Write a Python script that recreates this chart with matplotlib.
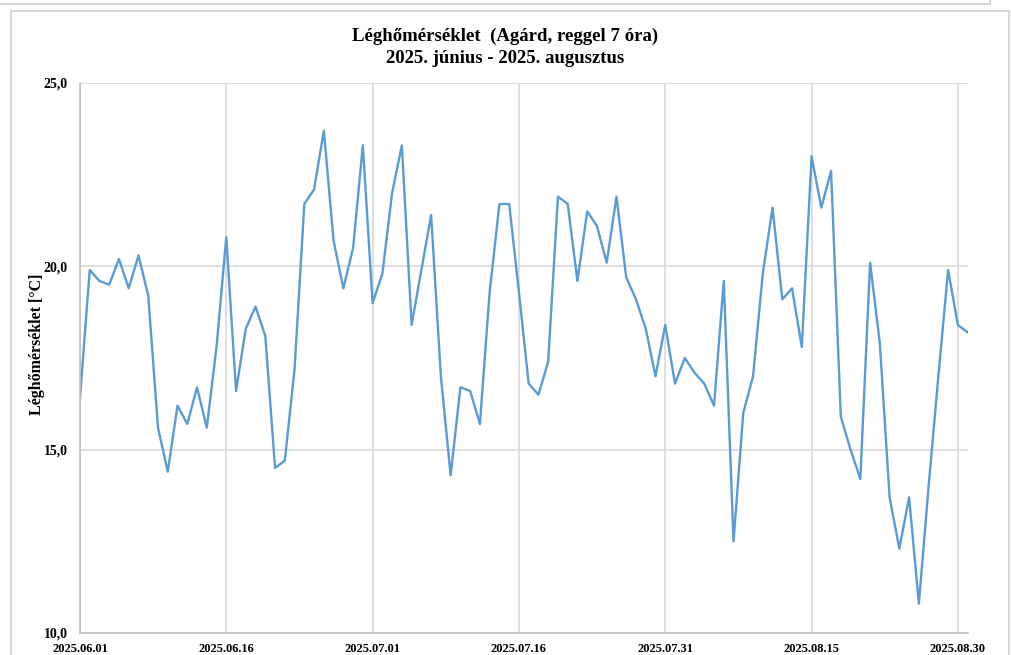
# Léghőmérséklet, Agárd, reggel 7 óra - 2025 nyár
import numpy as np
import pandas as pd
import matplotlib
matplotlib.use('Agg')
import matplotlib.pyplot as plt
from matplotlib.lines import Line2D

dates = pd.date_range('2025-06-01', '2025-08-31', freq='D')
temps = [16.4, 19.9, 19.6, 19.5, 20.2, 19.4, 20.3, 19.2, 15.6, 14.4,
         16.2, 15.7, 16.7, 15.6, 17.8, 20.8, 16.6, 18.3, 18.9, 18.1,
         14.5, 14.7, 17.2, 21.7, 22.1, 23.7, 20.7, 19.4, 20.5, 23.3,
         19.0, 19.8, 22.0, 23.3, 18.4, 19.9, 21.4, 17.0, 14.3, 16.7,
         16.6, 15.7, 19.3, 21.7, 21.7, 19.3, 16.8, 16.5, 17.4, 21.9,
         21.7, 19.6, 21.5, 21.1, 20.1, 21.9, 19.7, 19.1, 18.3, 17.0,
         18.4, 16.8, 17.5, 17.1, 16.8, 16.2, 19.6, 12.5, 16.0, 17.0,
         19.8, 21.6, 19.1, 19.4, 17.8, 23.0, 21.6, 22.6, 15.9, 15.0,
         14.2, 20.1, 17.9, 13.7, 12.3, 13.7, 10.8, 14.0, 17.0, 19.9,
         18.4, 18.2]

xtick_labels = ['2025.06.01', '2025.06.16', '2025.07.01', '2025.07.16',
                '2025.07.31', '2025.08.15', '2025.08.30']
yticks = [10, 15, 20, 25]

plt.rcParams['font.family'] = ['Liberation Serif', 'DejaVu Serif']
plt.rcParams['font.weight'] = 'bold'

fig = plt.figure(figsize=(10.11, 6.55), dpi=100)
ax = fig.add_axes([0.0791, 0.0336, 0.878, 0.8397])

day = np.arange(len(dates))
ax.plot(day, temps, color='#5B9BD5', linewidth=1.7)

tick_pos = [list(dates.strftime('%Y.%m.%d')).index(t) for t in xtick_labels]
ax.set_xticks(tick_pos)
ax.set_xticklabels(xtick_labels, fontsize=9, fontweight='bold')
ax.set_yticks(yticks)
ax.yaxis.set_major_formatter(plt.FuncFormatter(lambda v, p: ('%.1f' % v).replace('.', ',')))
ax.tick_params(axis='y', labelsize=10)
ax.set_xlim(0, len(dates) - 1)
ax.set_ylim(10, 25)

ax.grid(True, color='#d9d9d9', linewidth=1.2)
ax.set_axisbelow(True)
ax.tick_params(axis='x', length=0, pad=7)
ax.tick_params(axis='y', length=0, pad=9)
for s in ['top', 'right']:
    ax.spines[s].set_visible(False)
for s in ['left', 'bottom']:
    ax.spines[s].set_color('#bfbfbf')
    ax.spines[s].set_linewidth(1.2)

ax.set_ylabel('Léghőmérséklet [°C]', fontsize=11.5, fontweight='bold')
ax.yaxis.set_label_coords(-0.039, 0.525)

fig.text(0.5, 0.945, 'Léghőmérséklet  (Agárd, reggel 7 óra)', ha='center', va='center',
         fontsize=13.5, fontweight='bold')
fig.text(0.5, 0.911, '2025. június - 2025. augusztus', ha='center', va='center',
         fontsize=13.5, fontweight='bold')

# chart frame and the stray border above it
frame = '#d0d0d0'
fig.add_artist(Line2D([0.0109, 0.998], [0.983, 0.983], color=frame, linewidth=1.2))
fig.add_artist(Line2D([0.0109, 0.0109], [0.0, 0.983], color=frame, linewidth=1.2))
fig.add_artist(Line2D([0.998, 0.998], [0.0, 0.983], color=frame, linewidth=1.2))
fig.add_artist(Line2D([0.0, 0.979], [0.994, 0.994], color=frame, linewidth=1.2))
fig.add_artist(Line2D([0.979, 0.979], [0.994, 1.0], color=frame, linewidth=1.2))

plt.savefig('out.png', dpi=100)
plt.close()
